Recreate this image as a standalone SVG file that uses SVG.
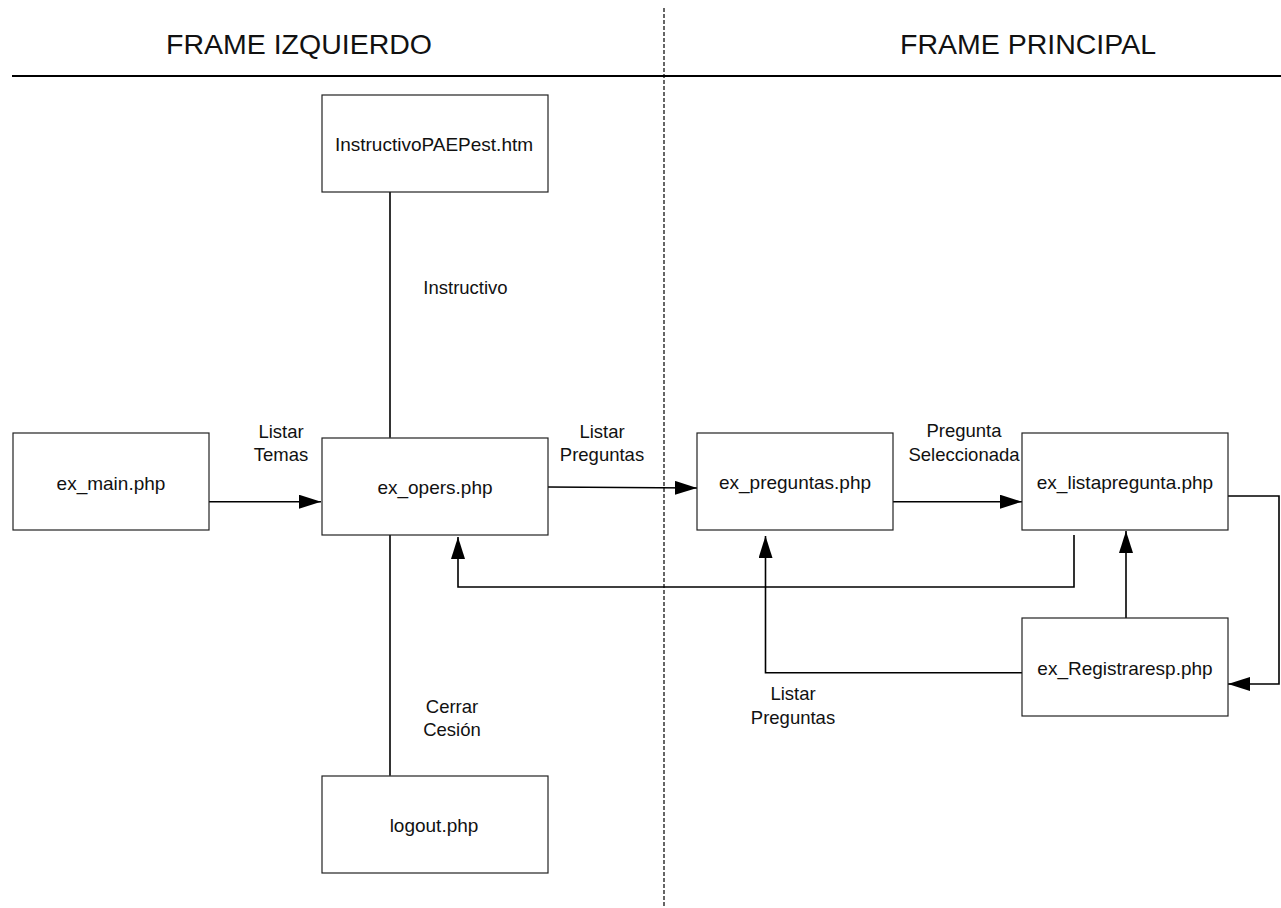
<svg xmlns="http://www.w3.org/2000/svg" width="1281" height="908" viewBox="0 0 1281 908">
  <defs>
    <style>
      .box { fill: #ffffff; stroke: #222222; stroke-width: 1.2; }
      .lbl { font-family: "Liberation Sans", Arial, sans-serif; font-size: 19px; fill: #111111; text-anchor: middle; }
      .elbl { font-family: "Liberation Sans", Arial, sans-serif; font-size: 18.5px; fill: #111111; text-anchor: middle; }
      .title { font-family: "Liberation Sans", Arial, sans-serif; font-size: 28.5px; fill: #111111; text-anchor: middle; }
      .conn { fill: none; stroke: #000000; stroke-width: 1.6; }
    </style>
    <marker id="arrow" markerUnits="userSpaceOnUse" markerWidth="23" markerHeight="15" refX="22" refY="7" orient="auto">
      <path d="M0,0 L22,7 L0,14 z" fill="#000000"/>
    </marker>
  </defs>

  <rect width="1281" height="908" fill="#ffffff"/>

  <!-- frame headers and separators -->
  <g id="frames">
    <line x1="664" y1="8" x2="664" y2="908" stroke="#000000" stroke-width="1.2" stroke-dasharray="4 2"/>
    <line x1="12" y1="76" x2="1281" y2="76" stroke="#000000" stroke-width="2"/>
    <text class="title" x="299" y="54">FRAME IZQUIERDO</text>
    <text class="title" x="1028" y="54">FRAME PRINCIPAL</text>
  </g>

  <!-- connectors -->
  <g id="connectors">
    <path class="conn" d="M209,501.7 L321,501.7" marker-end="url(#arrow)"/>
    <path class="conn" d="M548,487 L697,488" marker-end="url(#arrow)"/>
    <path class="conn" d="M893,501.7 L1022,501.7" marker-end="url(#arrow)"/>
    <path class="conn" d="M390,192 L390,437.7"/>
    <path class="conn" d="M390,535 L390,775.7"/>
    <path class="conn" d="M1074,535 L1074,587 L458,587 L458,537" marker-end="url(#arrow)"/>
    <path class="conn" d="M1126,618 L1126,531" marker-end="url(#arrow)"/>
    <path class="conn" d="M1027,672.7 L765.5,672.7 L765.5,536" marker-end="url(#arrow)"/>
    <path class="conn" d="M1228,496 L1279,496 L1279,684 L1228,684" marker-end="url(#arrow)"/>

    <text class="elbl" x="281" y="437.5">Listar</text>
    <text class="elbl" x="281" y="461">Temas</text>
    <text class="elbl" x="602" y="437.5">Listar</text>
    <text class="elbl" x="602" y="461">Preguntas</text>
    <text class="elbl" x="964" y="437">Pregunta</text>
    <text class="elbl" x="964" y="461">Seleccionada</text>
    <text class="elbl" x="465.5" y="293.5">Instructivo</text>
    <text class="elbl" x="452" y="712.5">Cerrar</text>
    <text class="elbl" x="452" y="736">Cesión</text>
    <text class="elbl" x="793" y="700">Listar</text>
    <text class="elbl" x="793" y="724">Preguntas</text>
  </g>

  <!-- nodes -->
  <g id="node-instructivo">
    <rect class="box" x="322" y="95" width="226" height="97"/>
    <text class="lbl" x="434" y="150.5">InstructivoPAEPest.htm</text>
  </g>
  <g id="node-ex-main">
    <rect class="box" x="13" y="433" width="196" height="97"/>
    <text class="lbl" x="111" y="489.5">ex_main.php</text>
  </g>
  <g id="node-ex-opers">
    <rect class="box" x="322" y="438" width="226" height="97"/>
    <text class="lbl" x="435" y="493.5">ex_opers.php</text>
  </g>
  <g id="node-logout">
    <rect class="box" x="322" y="776" width="226" height="97"/>
    <text class="lbl" x="434" y="831.5">logout.php</text>
  </g>
  <g id="node-ex-preguntas">
    <rect class="box" x="697" y="433" width="196" height="97"/>
    <text class="lbl" x="795" y="488.5">ex_preguntas.php</text>
  </g>
  <g id="node-ex-listapregunta">
    <rect class="box" x="1022" y="433" width="206" height="97"/>
    <text class="lbl" x="1125" y="488.5">ex_listapregunta.php</text>
  </g>
  <g id="node-ex-registraresp">
    <rect class="box" x="1022" y="618" width="206" height="98"/>
    <text class="lbl" x="1125" y="674.5">ex_Registraresp.php</text>
  </g>
</svg>
